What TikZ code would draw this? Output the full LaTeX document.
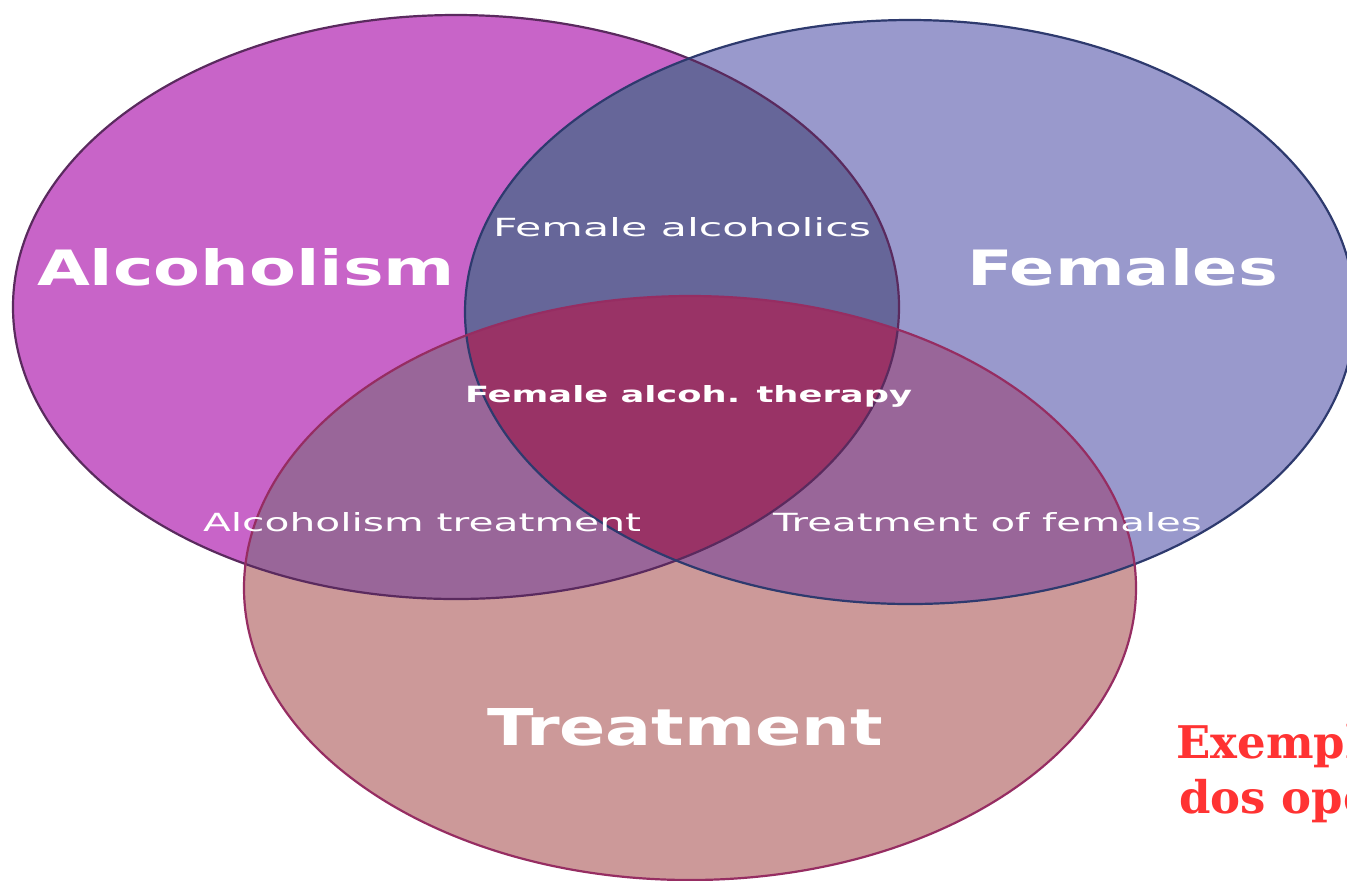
\documentclass[tikz,border=0pt]{standalone}
\usepackage{fontspec}
\usepackage{graphicx}
\newfontfamily\djs{DejaVu Sans}
\newfontfamily\djserif{DejaVu Serif}
\definecolor{cA}{HTML}{C864C8}
\definecolor{cF}{HTML}{9999CC}
\definecolor{cT}{HTML}{CC9999}
\definecolor{cAF}{HTML}{666699}
\definecolor{cAT}{HTML}{996699}
\definecolor{cFT}{HTML}{996699}
\definecolor{cAFT}{HTML}{993366}
\definecolor{oA}{HTML}{5A2A5E}
\definecolor{oF}{HTML}{2E3A6E}
\definecolor{oT}{HTML}{962D62}
\definecolor{redtxt}{HTML}{FF3333}
\tikzset{
  lab/.style={inner sep=0pt, outer sep=0pt, anchor=base west, text=white},
  outl/.style={line width=1.1pt},
}
\def\ellA{(456,307) ellipse [x radius=221.5pt, y radius=146pt]}
\def\ellF{(910,312) ellipse [x radius=222.5pt, y radius=146pt]}
\def\ellT{(690,588) ellipse [x radius=223pt, y radius=146pt]}
\begin{document}
\begin{tikzpicture}[x=0.5pt,y=-0.5pt]
\useasboundingbox (0,0) rectangle (1347,880);
\fill[white] (0,0) rectangle (1347,880);
% base fills
\fill[cA] \ellA;
\fill[cF] \ellF;
\fill[cT] \ellT;
% pairwise overlaps
\begin{scope}
  \clip \ellA;
  \fill[cAF] \ellF;
\end{scope}
\begin{scope}
  \clip \ellA;
  \fill[cAT] \ellT;
\end{scope}
\begin{scope}
  \clip \ellF;
  \fill[cFT] \ellT;
\end{scope}
\begin{scope}
  \clip \ellA;
  \clip \ellF;
  \fill[cAFT] \ellT;
\end{scope}
% outlines
\draw[outl, oA] \ellA;
\draw[outl, oF] \ellF;
\draw[outl, oT] \ellT;
% labels
\node[lab] (alc) at (37,285) {\resizebox{209pt}{18.5pt}{\djs\bfseries Alcoholism}};
\node[lab] (fem) at (967,285) {\resizebox{155.5pt}{18.5pt}{\djs\bfseries Females}};
\node[lab] (trt) at (487,745) {\resizebox{198pt}{18.5pt}{\djs\bfseries Treatment}};
\node[lab] (fa) at (493,236) {\resizebox{189pt}{9.5pt}{\djs Female alcoholics}};
\node[lab] (fat) at (465,402) {\resizebox{223.5pt}{8.5pt}{\djs\bfseries Female alcoh. therapy}};
\node[lab] (at) at (203,531) {\resizebox{219pt}{9.5pt}{\djs Alcoholism treatment}};
\node[lab] (tf) at (773,531) {\resizebox{214.5pt}{9.5pt}{\djs Treatment of females}};
% cut-off red caption
\begin{scope}
  \clip (0,0) rectangle (1347,880);
  \node[inner sep=0pt, anchor=base west, text=redtxt, font=\djserif\bfseries\fontsize{22.5pt}{27pt}\selectfont] (ex1) at (1176,758) {Exemplo};
  \node[inner sep=0pt, anchor=base west, text=redtxt, font=\djserif\bfseries\fontsize{22.5pt}{27pt}\selectfont] (ex2) at (1179,813) {dos operadores};
\end{scope}
\end{tikzpicture}
\end{document}
